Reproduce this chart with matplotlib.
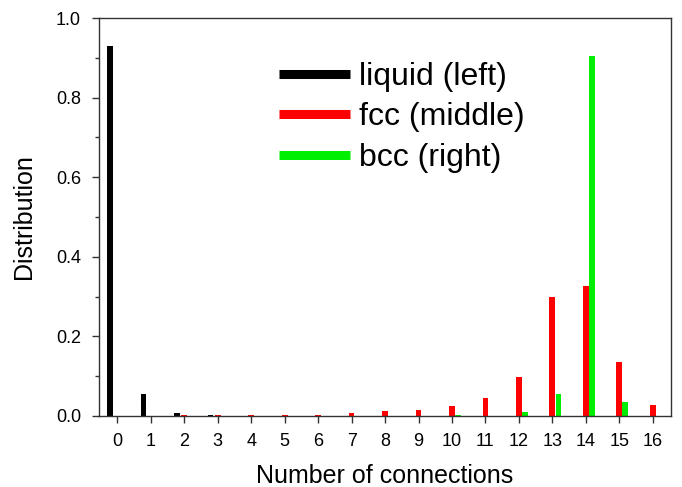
import matplotlib
matplotlib.use('Agg')
import matplotlib.pyplot as plt
import numpy as np
from matplotlib.ticker import MultipleLocator

plt.rcParams['font.family'] = ['Liberation Sans', 'DejaVu Sans']

# data
connections = list(range(17))
liquid = [0.93, 0.055, 0.008, 0.002, 0.001, 0, 0, 0, 0, 0, 0, 0, 0, 0, 0, 0, 0]
fcc = [0, 0.001, 0.002, 0.002, 0.002, 0.003, 0.003, 0.0075, 0.012, 0.016,
       0.024, 0.045, 0.099, 0.298, 0.327, 0.135, 0.027]
bcc = [0, 0, 0, 0, 0, 0, 0, 0, 0, 0, 0.002, 0.001, 0.009, 0.056, 0.905, 0.036, 0]
series_names = ['liquid (left)', 'fcc (middle)', 'bcc (right)']
series_colors = ['black', '#ff0000', '#00ee00']

fig = plt.figure(figsize=(6.82, 4.87), dpi=100)
ax = fig.add_axes([0.1452, 0.1458, 0.8388, 0.8172])

x = np.array(connections)
width = 0.17
offsets = [-0.22, 0.0, 0.18]
for vals, off, col in zip([liquid, fcc, bcc], offsets, series_colors):
    ax.bar(x + off, vals, width=width, color=col, linewidth=0)

# legend handles as thick lines
for name, col in zip(series_names, series_colors):
    ax.plot([], [], color=col, linewidth=6.5, label=name, solid_capstyle='butt')

ax.legend(loc='upper left', bbox_to_anchor=(0.315, 0.89), frameon=False,
          fontsize=23, handlelength=2.2, handletextpad=0.3, labelspacing=0.33,
          borderpad=0, borderaxespad=0)

ax.set_xlim(-0.55, 16.55)
ax.set_ylim(0, 1.0)
ax.set_xticks(connections)
ax.yaxis.set_major_locator(MultipleLocator(0.2))
ax.yaxis.set_minor_locator(MultipleLocator(0.1))
ax.yaxis.set_major_formatter(plt.FormatStrFormatter('%.1f'))

ax.tick_params(axis='both', which='major', direction='out', length=5, width=1,
               labelsize=13, color='#333333')
ax.tick_params(axis='y', which='major', pad=8)
ax.tick_params(axis='x', which='major', pad=7)
ax.tick_params(axis='y', which='minor', direction='out', length=3, width=1, color='#333333')
ax.tick_params(top=False, right=False, which='both')

for sp in ax.spines.values():
    sp.set_linewidth(1.0)
    sp.set_color('#333333')

ax.set_xlabel('Number of connections', fontsize=18, labelpad=10)
ax.set_ylabel('Distribution', fontsize=18, labelpad=14)

fig.savefig('out.png', dpi=100)
